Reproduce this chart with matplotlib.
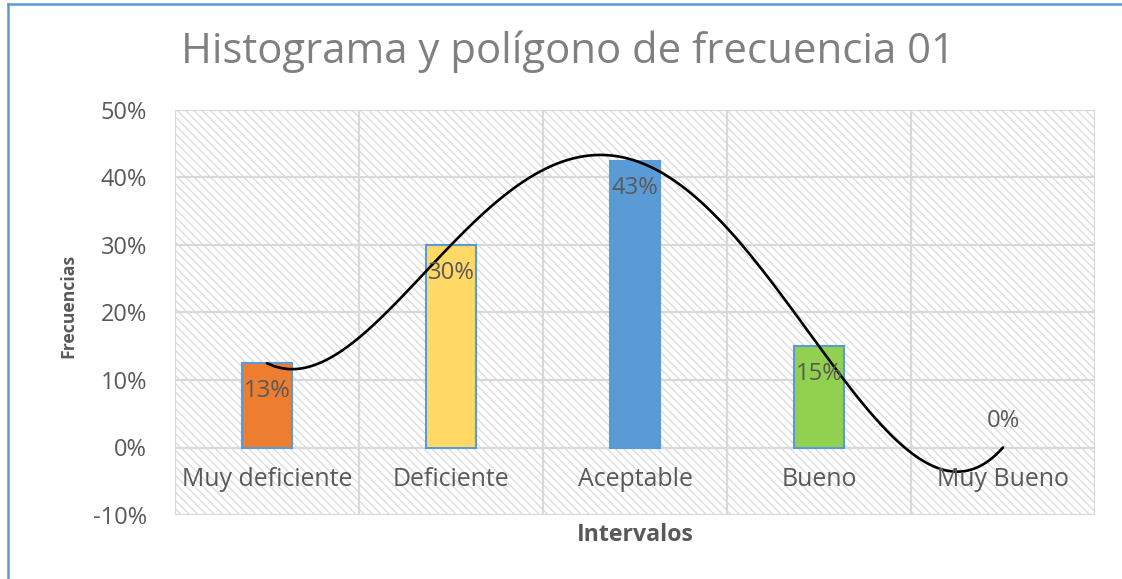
import math
import numpy as np
import matplotlib
matplotlib.use("Agg")
import matplotlib.pyplot as plt
from matplotlib.patches import Rectangle
from matplotlib.lines import Line2D
from matplotlib.ticker import FuncFormatter, MultipleLocator

categories = ["Muy deficiente", "Deficiente", "Aceptable", "Bueno", "Muy Bueno"]
frecuencias = [0.125, 0.30, 0.425, 0.15, 0.0]
bar_colors = ["#ED7D31", "#FFD966", "#5B9BD5", "#92D050", "#A5A5A5"]
title = "Histograma y polígono de frecuencia 01"
xlabel = "Intervalos"
ylabel = "Frecuencias"

plt.rcParams['font.family'] = ['Open Sans', 'DejaVu Sans']
plt.rcParams['hatch.linewidth'] = 0.9
TXT = "#595959"
GRID = "#D9D9D9"

W, H = 1122, 579
fig = plt.figure(figsize=(W / 100, H / 100), dpi=100)
fig.patch.set_facecolor("white")

ax = fig.add_axes([175 / W, 1 - 515 / H, (1095 - 175) / W, (515 - 110) / H])
ax.set_xlim(-0.5, len(categories) - 0.5)
ax.set_ylim(-0.1, 0.5)

# hatched plot-area background
bg = Rectangle((0, 0), 1, 1, transform=ax.transAxes, facecolor="white",
               edgecolor="#DADADA", hatch="\\\\\\\\", linewidth=0, zorder=0)
ax.add_patch(bg)

# gridlines
for yv in np.arange(-0.1, 0.5001, 0.1):
    ax.axhline(yv, color=GRID, lw=1.6, zorder=1)
for xv in np.arange(-0.5, len(categories), 1.0):
    ax.axvline(xv, color=GRID, lw=1.6, zorder=1)

x = np.arange(len(categories))
bars = ax.bar(x, frecuencias, width=0.27, color=bar_colors, edgecolor="#5B9BD5",
              linewidth=1.5, zorder=2)
for b, v in zip(bars, frecuencias):
    if v == 0:
        b.set_linewidth(0)

# polynomial trend (order 4) through the frequencies
coef = np.polyfit(x, frecuencias, 4)
xs = np.linspace(x[0], x[-1], 400)
ax.plot(xs, np.polyval(coef, xs), color="black", lw=1.9, zorder=3,
        solid_capstyle="round")

# data labels
data_texts = []
for xi, v in zip(x, frecuencias):
    lbl = f"{math.floor(v * 100 + 0.5)}%"
    off = -20 if v > 0 else 19
    t = ax.annotate(lbl, (xi, v), xytext=(0, off), textcoords="offset points",
                    ha="center", va="center", fontsize=14, color=TXT, zorder=4)
    data_texts.append(t)

# category labels inside plot area at zero crossing
cat_texts = []
for xi, c in zip(x, categories):
    t = ax.text(xi, -0.047, c, ha="center", va="center", fontsize=14, color=TXT,
                zorder=4)
    cat_texts.append(t)

ax.set_xticks([])
ax.yaxis.set_major_locator(MultipleLocator(0.1))
ax.yaxis.set_major_formatter(FuncFormatter(lambda v, p: f"{round(v * 100):.0f}%"))
ax.tick_params(axis="y", length=0, labelsize=14, labelcolor=TXT, pad=20)
for s in ax.spines.values():
    s.set_visible(False)

t_title = fig.text(568 / W, 1 - 52 / H, title, ha="center", va="center", fontsize=27,
                   color="#808080")
t_x = fig.text(635 / W, 1 - 535 / H, xlabel, ha="center", va="center", fontsize=12.5,
               color=TXT, fontweight="bold")
t_y = fig.text(68 / W, 1 - 306 / H, ylabel, ha="center", va="center", fontsize=12.5,
               color=TXT, fontweight="bold", rotation=90)

# fit font sizes to the reference's measured extents
renderer = fig.canvas.get_renderer()


def fit(artists, ref, target, axis="w"):
    e = ref.get_window_extent(renderer)
    cur = e.width if axis == "w" else e.height
    fs = ref.get_fontsize() * target / cur
    for a in artists:
        a.set_fontsize(fs)
    return fs


fit([t_title], t_title, 775)
fit(cat_texts, cat_texts[0], 171)
fit(data_texts, data_texts[0], 47)
fit([t_x], t_x, 117)
fit([t_y], t_y, 104, "h")
fig.canvas.draw()
ylab = [l for l in ax.get_yticklabels() if l.get_text() == "50%"][0]
fs_y = fit([ylab], ylab, 47)
ax.tick_params(axis="y", labelsize=fs_y)

# chart-area border (left and top visible)
fig.add_artist(Line2D([8 / W, 8 / W], [0, 1 - 4 / H], transform=fig.transFigure,
                      color="#5B9BD5", lw=1.8))
fig.add_artist(Line2D([8 / W, 1], [1 - 4 / H, 1 - 4 / H], transform=fig.transFigure,
                      color="#5B9BD5", lw=1.8))

fig.savefig("out.png", dpi=100)
